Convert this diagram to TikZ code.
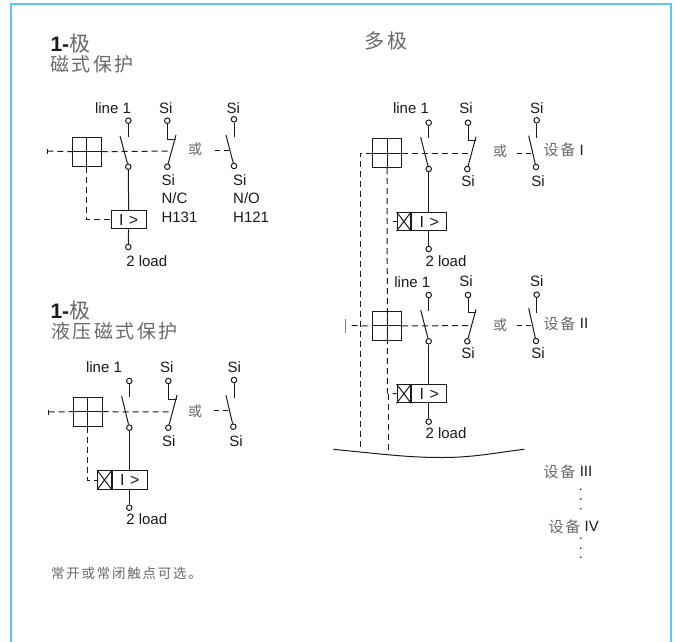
\documentclass[tikz,border=0pt]{standalone}
\usepackage{fontspec}
\usetikzlibrary{positioning}
\setmainfont{Liberation Sans}
\newfontfamily\cjk[LetterSpace=13]{Noto Sans CJK SC}
\definecolor{frameblue}{HTML}{5BC8F0}
\definecolor{ink}{HTML}{1A1A1A}
\definecolor{cjkgray}{HTML}{686868}
\newcommand{\sz}[1]{\fontsize{#1}{#1}\selectfont}
\begin{document}
\begin{tikzpicture}[x=1pt, y=-1pt, line width=1pt, draw=ink, text=ink,
    term/.style = {circle, draw, fill=white, inner sep=0pt, minimum size=5.5pt},
    txt/.style = {inner sep=0pt, font=\sz{15}},
    zh/.style = {inner sep=0pt, text=cjkgray, font=\sz{14}\cjk},
    title/.style = {inner sep=0pt, anchor=west, align=left, text=cjkgray, font=\sz{19}\cjk},
    gridbox/.style = {draw, inner sep=0pt, minimum size=28.7pt},
    ibox/.style = {draw, inner sep=0pt, minimum height=18.3pt, font=\sz{16}},
    xbox/.style = {draw, inner sep=0pt, minimum height=18.3pt, minimum width=13.6pt},
    link/.style = {dash pattern=on 6pt off 4pt},
    dot/.style = {circle, fill=ink, inner sep=0pt, minimum size=1.8pt}]

\useasboundingbox (0,0) rectangle (675,642);

% Frame
\draw[frameblue, line width=2pt] (10.5,642) -- (10.5,4.5) -- (671,4.5) -- (671,642);

% Titles
\node[inner sep=0pt, anchor=west, font=\sz{21}\bfseries] (TA) at (50,44) {1-{\mdseries\color{cjkgray}\cjk 极}};
\node[title] (TB) at (50,64) {磁式保护};
\node[inner sep=0pt, anchor=west, font=\sz{21}\bfseries] (TC) at (50,311) {1-{\mdseries\color{cjkgray}\cjk 极}};
\node[title] (TD) at (51,331) {液压磁式保护};
\node[title, anchor=center, font=\sz{20}\cjk] (TE) at (386,40.5) {多极};
\node[zh, anchor=west, font=\sz{13.5}\cjk] (note) at (50.7,573.3) {常开或常闭触点可选。};

% Single pole, magnetic
\node[gridbox] (A) at (86.7,151.7) {};
\draw (A.north) -- (A.south);
\draw (A.west) -- (A.east);
\node[txt] (Aline) at (113,108) {line 1};
\node[term] (Aa) at (128.3,120.7) {};
\coordinate (Aa1) at (128.3,137);
\coordinate (Aa2) at (120,136);
\node[term] (Ab) at (128.3,166.7) {};
\node[ibox, minimum width=35.3pt] (Atrip) at (128.7,219.7) {I\,\,>};
\node[term] (Ac) at (128.3,247) {};
\node[txt] (Aload) at (146.7,260.7) {2 load};
\draw (Aa) -- (Aa1);
\draw (Aa2) -- (Ab);
\draw (Ab) -- (Atrip);
\draw (Atrip) -- (Ac);
\coordinate (Atick) at (47.3,151);
\draw ([yshift=-2.5pt]Atick) -- ([yshift=2.5pt]Atick);
\draw[link] (Atick) -- (A.west);
\coordinate (Ajoin) at (172,151);
\draw[link] (A.east) -- (Ajoin);
\draw[link] (A.south) |- (Atrip.west);
% N/C contact
\node[txt] (Asi) at (165.7,108) {Si};
\node[term] (Ad) at (167.3,120.7) {};
\coordinate (Ad1) at (167.3,139);
\coordinate (Ad2) at (176,139);
\coordinate (Ad3) at (176,135);
\node[term] (Ae) at (167.3,166.7) {};
\draw (Ad) -- (Ad1) -- (Ad2);
\draw (Ad3) -- (Ae);
\node[txt, anchor=west, align=left] (Anc) at (161,180) {Si};
\node[txt, anchor=west] (Anc2) at (161,197.7) {N/C};
\node[txt, anchor=west] (Anc3) at (161,217.7) {H131};
\node[zh] (Aor) at (195,149.3) {或};
% N/O contact
\node[txt] (Asj) at (233.3,108) {Si};
\node[term] (Af) at (234,119.3) {};
\coordinate (Af1) at (234,137.3);
\coordinate (Af2) at (226,135);
\node[term] (Ag) at (234,166) {};
\draw (Af) -- (Af1);
\draw (Af2) -- (Ag);
\coordinate (Ah1) at (215,150.7);
\coordinate (Ah2) at (230,150.7);
\draw[dash pattern=on 5pt off 4pt] (Ah1) -- (Ah2);
\node[txt, anchor=west] (Ano) at (232.7,180) {Si};
\node[txt, anchor=west] (Ano2) at (232.7,197.7) {N/O};
\node[txt, anchor=west] (Ano3) at (232.7,217.7) {H121};

% Single pole, hydraulic magnetic
\node[gridbox] (B) at (87.7,411.7) {};
\draw (B.north) -- (B.south);
\draw (B.west) -- (B.east);
\node[txt] (Bline) at (104,367.3) {line 1};
\node[term] (Ba) at (129.3,381) {};
\coordinate (Ba1) at (129.3,397.3);
\coordinate (Ba2) at (121.7,396.3);
\node[term] (Bb) at (129.3,427.7) {};
\node[ibox, minimum width=35pt] (Btrip) at (129.8,480) {I\,\,>};
\node[xbox, left=0pt of Btrip] (Bx) {};
\draw (Bx.north west) -- (Bx.south east);
\draw (Bx.south west) -- (Bx.north east);
\node[term] (Bc) at (129.3,507.7) {};
\node[txt] (Bload) at (146.7,519.3) {2 load};
\draw (Ba) -- (Ba1);
\draw (Ba2) -- (Bb);
\draw (Bb) -- (Btrip.north -| Bb);
\draw (Btrip.south -| Bc) -- (Bc);
\coordinate (Btick) at (48.7,412);
\draw ([yshift=-2.5pt]Btick) -- ([yshift=2.5pt]Btick);
\draw[link] (Btick) -- (B.west);
\coordinate (Bjoin) at (172,412);
\draw[link] (B.east) -- (Bjoin);
\draw[link] (B.south) |- (Bx.west);
% contacts
\node[txt] (Bsi) at (166.7,367.3) {Si};
\node[term] (Bd) at (168.3,381) {};
\coordinate (Bd1) at (168.3,399);
\coordinate (Bd2) at (177,399);
\coordinate (Bd3) at (177,395);
\node[term] (Be) at (168.3,427.7) {};
\draw (Bd) -- (Bd1) -- (Bd2);
\draw (Bd3) -- (Be);
\node[txt] (Bsb) at (168.7,441) {Si};
\node[zh] (Bor) at (195,410.7) {或};
\node[txt] (Bsj) at (234.3,367.3) {Si};
\node[term] (Bf) at (234,380) {};
\coordinate (Bf1) at (234,398.3);
\coordinate (Bf2) at (226,395.3);
\node[term] (Bg) at (233.3,426.7) {};
\draw (Bf) -- (Bf1);
\draw (Bf2) -- (Bg);
\coordinate (Bh1) at (214,410.7);
\coordinate (Bh2) at (230,410.7);
\draw[dash pattern=on 5pt off 4pt] (Bh1) -- (Bh2);
\node[txt] (Bsk) at (236,441) {Si};

% Multi pole, unit I
\node[gridbox] (C) at (387.2,153.3) {};
\draw (C.north) -- (C.south);
\draw (C.west) -- (C.east);
\node[txt] (Cline) at (411,108.3) {line 1};
\node[term] (Ca) at (428.7,122.7) {};
\coordinate (Ca1) at (428.7,138.3);
\coordinate (Ca2) at (420.7,137.3);
\node[term] (Cb) at (428.7,169) {};
\node[ibox, minimum width=35.3pt] (Ctrip) at (429.3,221.5) {I\,\,>};
\node[xbox, left=0pt of Ctrip] (Cx) {};
\draw (Cx.north west) -- (Cx.south east);
\draw (Cx.south west) -- (Cx.north east);
\node[term] (Cc) at (428.7,249) {};
\node[txt] (Cload) at (446,260.7) {2 load};
\draw (Ca) -- (Ca1);
\draw (Ca2) -- (Cb);
\draw (Cb) -- (Ctrip.north -| Cb);
\draw (Ctrip.south -| Cc) -- (Cc);
\coordinate (Cjoin) at (470,153.3);
\draw[link] (C.east) -- (Cjoin);
\coordinate (Cstub) at (392.7,221.5);
\draw (Cstub) -- (Cx.west);
\node[txt] (Csi) at (466,108.3) {Si};
\node[term] (Cd) at (468,122.7) {};
\coordinate (Cd1) at (468,140);
\coordinate (Cd2) at (476,140);
\coordinate (Cd3) at (476,136.7);
\node[term] (Ce) at (467.3,169) {};
\draw (Cd) -- (Cd1) -- (Cd2);
\draw (Cd3) -- (Ce);
\node[txt] (Csb) at (468,180.7) {Si};
\node[zh] (Cor) at (500,151.7) {或};
\node[txt] (Csj) at (536.7,108) {Si};
\node[term] (Cf) at (536.7,120.3) {};
\coordinate (Cf1) at (536.7,138.3);
\coordinate (Cf2) at (528.7,135.7);
\node[term] (Cg) at (536,167) {};
\draw (Cf) -- (Cf1);
\draw (Cf2) -- (Cg);
\coordinate (Ch1) at (517,153.3);
\coordinate (Ch2) at (533,153.3);
\draw[dash pattern=on 5pt off 4pt] (Ch1) -- (Ch2);
\node[txt] (Csk) at (538,180.7) {Si};
\node[zh, anchor=west, font=\sz{15}\cjk] (Cname) at (543,150) {设备};
\node[txt] (Cnum) at (581.7,150) {I};

% Multi pole, unit II
\node[gridbox] (D) at (387.2,325.8) {};
\draw (D.north) -- (D.south);
\draw (D.west) -- (D.east);
\node[txt] (Dline) at (412.3,281.7) {line 1};
\node[term] (Da) at (428.7,295) {};
\coordinate (Da1) at (428.7,310.7);
\coordinate (Da2) at (420.7,310);
\node[term] (Db) at (428.7,341.3) {};
\node[ibox, minimum width=35.3pt] (Dtrip) at (429.3,393.7) {I\,\,>};
\node[xbox, left=0pt of Dtrip] (Dx) {};
\draw (Dx.north west) -- (Dx.south east);
\draw (Dx.south west) -- (Dx.north east);
\node[term] (Dc) at (428.7,421.7) {};
\node[txt] (Dload) at (446,433.3) {2 load};
\draw (Da) -- (Da1);
\draw (Da2) -- (Db);
\draw (Db) -- (Dtrip.north -| Db);
\draw (Dtrip.south -| Dc) -- (Dc);
\coordinate (Dtick) at (345.7,325.7);
\draw[gray, line width=1.4pt] ([yshift=-7pt]Dtick) -- ([yshift=7pt]Dtick);
\coordinate (Dtick2) at (351.7,325.7);
\draw[link] (Dtick2) -- (D.west);
\coordinate (Djoin) at (470,325.7);
\draw[link] (D.east) -- (Djoin);
\coordinate (Dstub) at (392.7,393.5);
\draw (Dstub) -- (Dx.west);
\node[txt] (Dsi) at (466,280.7) {Si};
\node[term] (Dd) at (468,295) {};
\coordinate (Dd1) at (468,312.7);
\coordinate (Dd2) at (476,312.7);
\coordinate (Dd3) at (476,309.3);
\node[term] (De) at (467.3,341.3) {};
\draw (Dd) -- (Dd1) -- (Dd2);
\draw (Dd3) -- (De);
\node[txt] (Dsb) at (468,353.3) {Si};
\node[zh] (Dor) at (500,325) {或};
\node[txt] (Dsj) at (536.7,280.7) {Si};
\node[term] (Df) at (536.7,294.7) {};
\coordinate (Df1) at (536.7,312.7);
\coordinate (Df2) at (528.7,308.3);
\node[term] (Dg) at (536,341) {};
\draw (Df) -- (Df1);
\draw (Df2) -- (Dg);
\coordinate (Dh1) at (517,325.7);
\coordinate (Dh2) at (533,325.7);
\draw[dash pattern=on 5pt off 4pt] (Dh1) -- (Dh2);
\node[txt] (Dsk) at (538,353.3) {Si};
\node[zh, anchor=west, font=\sz{15}\cjk] (Dname) at (543,323.3) {设备};
\node[txt] (Dnum) at (584,323.3) {II};

% Common links and break line
\coordinate (Eleft) at (333.3,449.3);
\coordinate (Eright) at (524.3,449.3);
\coordinate (Eone) at (360.3,451);
\coordinate (Etwo) at (388.7,453.5);
\coordinate (Cbend) at (360.3,153.3);
\coordinate (Dbend) at (387.3,393.5);
\draw[link] (C.west) -- (Cbend) -- (Eone);
\draw[link] (C.south) -- (Dbend);
\draw[link] (Dbend -| Etwo) -- (Etwo);
\draw (Eleft) .. controls (390,455) and (410,457.5) .. (443,457.5)
    .. controls (475,457.5) and (500,452) .. (Eright);

% Further units
\node[zh, anchor=west, font=\sz{15}\cjk] (Fname) at (543,471.7) {设备};
\node[txt] (Fnum) at (586,471.7) {III};
\node[zh, anchor=west, font=\sz{15}\cjk] (Gname) at (548,526.7) {设备};
\node[txt] (Gnum) at (591.7,526.7) {IV};
\foreach \ypos in {489.3,499,508.7,538.3,548.3,557.3}
    \node[dot] at (580.7,\ypos) {};

\end{tikzpicture}
\end{document}
